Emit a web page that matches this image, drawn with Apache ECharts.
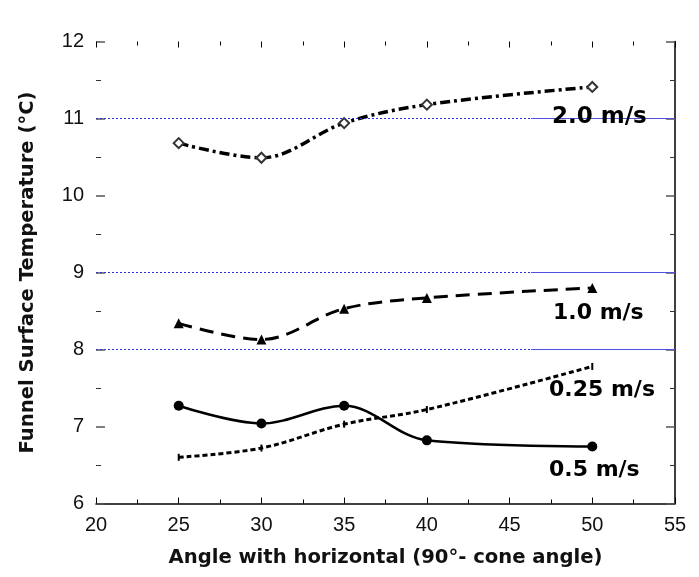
<!DOCTYPE html>
<html>
<head>
<meta charset="utf-8">
<script src="https://cdn.jsdelivr.net/npm/echarts@6/dist/echarts.min.js"></script>
<style>
  html, body { margin: 0; padding: 0; background: #fff; }
  #chart-container { width: 699px; height: 577px; }
</style>
</head>
<body>
<div id="chart-container"></div>
<script>
var angles = [25, 30, 35, 40, 50];
var temp025 = [6.6, 6.72, 7.03, 7.22, 7.78];
var temp05 = [7.27, 7.04, 7.27, 6.82, 6.74];
var temp10 = [8.34, 8.13, 8.53, 8.67, 8.8];
var temp20 = [10.68, 10.49, 10.94, 11.18, 11.41];
var seriesNames = ['0.25 m/s', '0.5 m/s', '1.0 m/s', '2.0 m/s'];
var gridValues = [8, 9, 11];
var dottedEnd = 46.3;

function pairs(vals) {
    return angles.map(function (a, i) { return [a, vals[i]]; });
}

var dom = document.getElementById('chart-container');
var myChart = echarts.init(dom, null, { renderer: 'canvas' });

var font = '"Liberation Sans", Arial, sans-serif';
var boldFont = '"DejaVu Sans", sans-serif';

var gridLines = [];
gridValues.forEach(function (v) {
    gridLines.push([
        { coord: [20, v], lineStyle: { type: [2, 2], color: '#3030e0', width: 1 } },
        { coord: [dottedEnd, v] }
    ]);
    gridLines.push([
        { coord: [dottedEnd, v], lineStyle: { type: 'solid', color: '#5050e0', width: 1 } },
        { coord: [55, v] }
    ]);
});

var tickLabel = { color: '#111', fontSize: 20, fontFamily: font };
var labelStyle = { fontWeight: 'bold', fontFamily: boldFont, fill: '#000' };

var option = {
    animation: false,
    grid: { left: 96, right: 24, top: 41.5, bottom: 73.5 },
    xAxis: [
        {
            type: 'value', min: 20, max: 55, interval: 5, position: 'bottom',
            name: 'Angle with horizontal (90°- cone angle)',
            nameLocation: 'middle', nameGap: 44,
            nameTextStyle: { fontSize: 19.6, fontWeight: 'bold', color: '#111', fontFamily: boldFont },
            axisLine: { lineStyle: { color: '#000', width: 1.5 } },
            axisTick: { inside: true, length: 6, lineStyle: { color: '#000' } },
            minorTick: { show: true, splitNumber: 2, length: 4, lineStyle: { color: '#000' } },
            axisLabel: Object.assign({ margin: 12 }, tickLabel),
            splitLine: { show: false }
        },
        {
            type: 'value', min: 20, max: 55, interval: 5, position: 'top',
            axisLine: { show: false },
            axisTick: { inside: true, length: 6, lineStyle: { color: '#000' } },
            minorTick: { show: true, splitNumber: 2, length: 4, lineStyle: { color: '#000' } },
            axisLabel: { show: false },
            splitLine: { show: false }
        }
    ],
    yAxis: [
        {
            type: 'value', min: 6, max: 12, interval: 1, position: 'left',
            name: 'Funnel Surface Temperature (°C)',
            nameLocation: 'middle', nameGap: 58,
            nameTextStyle: { fontSize: 19.6, fontWeight: 'bold', color: '#111', fontFamily: boldFont },
            axisLine: { show: false },
            axisTick: { inside: true, length: 9, lineStyle: { color: '#555', width: 1.5 } },
            minorTick: { show: true, splitNumber: 2, length: 5, lineStyle: { color: '#333' } },
            axisLabel: Object.assign({ margin: 12 }, tickLabel),
            splitLine: { show: false }
        },
        {
            type: 'value', min: 6, max: 12, interval: 1, position: 'right',
            axisLine: { show: true, lineStyle: { color: '#000', width: 1.5 } },
            axisTick: { inside: true, length: 9, lineStyle: { color: '#555', width: 1.5 } },
            minorTick: { show: true, splitNumber: 2, length: 5, lineStyle: { color: '#333' } },
            axisLabel: { show: false },
            splitLine: { show: false }
        }
    ],
    series: [
        {
            name: seriesNames[0], type: 'line', smooth: 0.35,
            data: pairs(temp025),
            symbol: 'rect', symbolSize: [2, 7],
            itemStyle: { color: '#000' },
            lineStyle: { color: '#000', width: 3, type: [5, 3] },
            markLine: {
                silent: true, symbol: 'none', label: { show: false },
                data: gridLines
            },
            z: 3
        },
        {
            name: seriesNames[1], type: 'line', smooth: 0.35,
            data: pairs(temp05),
            symbol: 'circle', symbolSize: 10,
            itemStyle: { color: '#000' },
            lineStyle: { color: '#000', width: 2.5 },
            z: 3
        },
        {
            name: seriesNames[2], type: 'line', smooth: 0.35,
            data: pairs(temp10),
            symbol: 'triangle', symbolSize: 10,
            itemStyle: { color: '#000' },
            lineStyle: { color: '#000', width: 3, type: [14, 8] },
            z: 3
        },
        {
            name: seriesNames[3], type: 'line', smooth: 0.35,
            data: pairs(temp20),
            symbol: 'emptyDiamond', symbolSize: 10,
            itemStyle: { color: '#333', borderWidth: 1 },
            lineStyle: { color: '#000', width: 3.5, type: [10, 4, 3, 4] },
            z: 3
        }
    ],
    graphic: [
        { type: 'text', left: 552, top: 106, z: 10,
          style: Object.assign({ text: '2.0 m/s', fontSize: 23 }, labelStyle) },
        { type: 'text', left: 553, top: 302, z: 10,
          style: Object.assign({ text: '1.0 m/s', fontSize: 22 }, labelStyle) },
        { type: 'text', left: 549, top: 379, z: 10,
          style: Object.assign({ text: '0.25 m/s', fontSize: 22 }, labelStyle) },
        { type: 'text', left: 549, top: 459, z: 10,
          style: Object.assign({ text: '0.5 m/s', fontSize: 22 }, labelStyle) }
    ]
};

myChart.setOption(option);
window.addEventListener('resize', myChart.resize);
</script>
</body>
</html>
